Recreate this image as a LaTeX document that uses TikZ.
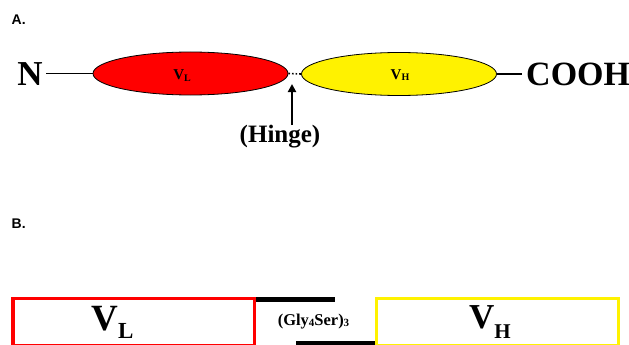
\documentclass[tikz,border=0pt]{standalone}
\usepackage{fontspec}
\setmainfont{Liberation Serif}
\newfontfamily\labfont{Liberation Sans}
\usetikzlibrary{arrows.meta,shapes.geometric}
\begin{document}
\begin{tikzpicture}[x=1pt,y=-1pt,
  serifbold/.style={font=\bfseries, inner sep=0pt},
  panellabel/.style={font=\labfont\bfseries\fontsize{14}{14}\selectfont, inner sep=0pt, anchor=base west},
  domainell/.style={ellipse, draw=black, line width=0.8pt, minimum width=195pt, minimum height=43pt, inner sep=0pt},
  tether/.style={line width=1.6pt},
  bar/.style={line width=5pt},
  boxred/.style={draw=red, line width=3.5pt},
  boxyel/.style={draw=yellow, line width=3.5pt}]
\useasboundingbox (0,0) rectangle (629,345);
\clip (0,0) rectangle (629,345);
% Panel A
\node[panellabel] (A) at (11.5,25) {A.};
\node[serifbold, anchor=base, font=\bfseries\fontsize{35}{35}\selectfont] (N) at (30,85) {N};
\node[domainell, fill=red] (VL) at (190.5,73.5) {};
\node[domainell, fill=yellow] (VH) at (399,74) {};
\node[serifbold, anchor=base] (vltxt) at (182,80) {\fontsize{15}{15}\selectfont V\raisebox{-1.5pt}{\fontsize{10}{10}\selectfont L}};
\node[serifbold, anchor=base] (vhtxt) at (400,79) {\fontsize{15}{15}\selectfont V\raisebox{-1.5pt}{\fontsize{10}{10}\selectfont H}};
\node[serifbold, anchor=base west, font=\bfseries\fontsize{34}{34}\selectfont] (COOH) at (526,85) {COOH};
\coordinate (nend) at (46,73.5);
\coordinate (cend) at (522,74);
\draw[tether] (nend) -- (VL.west);
\draw[tether] (VH.east) -- (cend);
\draw[line width=1.6pt, dotted] (VL.east) -- (VH.west);
\node[serifbold, anchor=base, font=\bfseries\fontsize{25}{25}\selectfont] (hinge) at (280,142) {(Hinge)};
\coordinate (hingetip) at (292,84);
\coordinate (hingebase) at (292,125);
\draw[line width=2pt, -{Triangle[length=8pt,width=8pt]}] (hingebase) -- (hingetip);
% Panel B
\node[panellabel] (B) at (11.5,228) {B.};
\draw[boxred] (13,298.5) rectangle (254.5,346);
\draw[boxyel] (376.5,298.5) rectangle (618.5,346);
\coordinate (b1a) at (256,299);
\coordinate (b1b) at (335,299);
\coordinate (b2a) at (296,343.5);
\coordinate (b2b) at (375,343.5);
\draw[bar] (b1a) -- (b1b);
\draw[bar] (b2a) -- (b2b);
\node[serifbold, anchor=base] (VLbig) at (112.5,330) {\fontsize{37}{37}\selectfont V\raisebox{-8pt}{\fontsize{23}{23}\selectfont L}};
\node[serifbold, anchor=base] (VHbig) at (490,328) {\fontsize{35}{35}\selectfont V\raisebox{-10pt}{\fontsize{21}{21}\selectfont H}};
\node[serifbold, anchor=base] (linker) at (313.5,325) {\fontsize{16.5}{16.5}\selectfont (Gly\raisebox{-1pt}{\fontsize{11}{11}\selectfont 4}Ser)\raisebox{-1.5pt}{\fontsize{11}{11}\selectfont 3}};
\end{tikzpicture}
\end{document}
